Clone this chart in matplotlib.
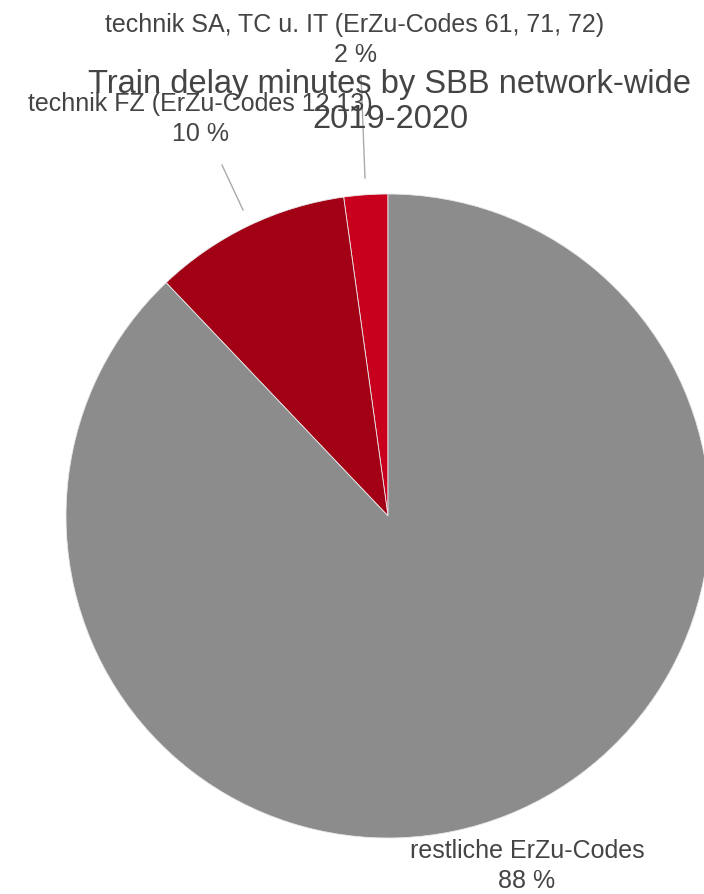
import numpy as np
import matplotlib.pyplot as plt

plt.rcParams['font.family'] = ['Liberation Sans', 'DejaVu Sans']

# daten
labels = ['technik SA, TC u. IT (ErZu-Codes 61, 71, 72)',
          'technik FZ (ErZu-Codes 12,13)',
          'restliche ErZu-Codes']
values = [2.2, 9.9, 87.9]
colors = ['#c8001e', '#a10015', '#8c8c8c']

# etiketten: position (x, y in pixel) und linie (start, ende)
label_pos = [(355, 40), (200, 119), (527, 866)]
line_pts = [((365, 178), (361, 75)), ((243, 210), (222, 165)), None]

H = 894
fig = plt.figure(figsize=(7.04, 8.94), dpi=100)
ax = fig.add_axes([0, 0, 1, 1])
ax.set_xlim(0, 704)
ax.set_ylim(0, H)
ax.axis('off')

ax.pie(values, colors=colors, startangle=90, counterclock=True,
       center=(388, H - 516), radius=322,
       wedgeprops=dict(linewidth=0.6, edgecolor='#e8e8e8'))
ax.set_xlim(0, 704)
ax.set_ylim(0, H)
ax.set_aspect('equal')

total = sum(values)
for lab, v, pos, ln in zip(labels, values, label_pos, line_pts):
    if ln is not None:
        ax.plot([ln[0][0], ln[1][0]], [H - ln[0][1], H - ln[1][1]],
                color='#aaaaaa', lw=1)
    ax.text(pos[0], H - pos[1], lab + '\n' + '%d %%' % round(v / total * 100),
            ha='center', va='center', fontsize=18, color='#444444',
            linespacing=1.35)

ax.text(390, H - 102, 'Train delay minutes by SBB network-wide\n2019-2020',
        ha='center', va='center', fontsize=23.5, color='#444444',
        linespacing=1.16)

plt.savefig('out.png', dpi=100)
